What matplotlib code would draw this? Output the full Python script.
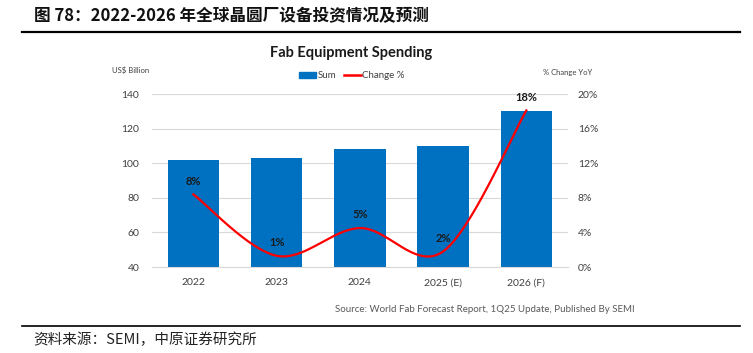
import numpy as np
import matplotlib
matplotlib.use("Agg")
import matplotlib.pyplot as plt
from matplotlib.patches import Patch
from matplotlib.lines import Line2D

years = ["2022", "2023", "2024", "2025 (E)", "2026 (F)"]
spending = [102, 103, 108, 110, 130]
change_pct = [8.4, 1.3, 4.5, 1.8, 18.1]
change_labels = ["8%", "1%", "5%", "2%", "18%"]

plt.rcParams['font.family'] = ['Lato', 'DejaVu Sans']


def smooth_curve(xs, ys, n=40):
    # excel style smoothed line (bezier through the points)
    px = np.array(xs, dtype=float)
    py = np.array(ys, dtype=float)
    ex = np.concatenate([[px[0]], px, [px[-1]]])
    ey = np.concatenate([[py[0]], py, [py[-1]]])
    out_x, out_y = [], []
    t = np.linspace(0, 1, n)
    for i in range(len(px) - 1):
        p0x, p0y = ex[i + 1], ey[i + 1]
        p3x, p3y = ex[i + 2], ey[i + 2]
        c1x = p0x + (ex[i + 2] - ex[i]) / 6
        c1y = p0y + (ey[i + 2] - ey[i]) / 6
        c2x = p3x - (ex[i + 3] - ex[i + 1]) / 6
        c2y = p3y - (ey[i + 3] - ey[i + 1]) / 6
        bx = (1 - t) ** 3 * p0x + 3 * (1 - t) ** 2 * t * c1x + 3 * (1 - t) * t ** 2 * c2x + t ** 3 * p3x
        by = (1 - t) ** 3 * p0y + 3 * (1 - t) ** 2 * t * c1y + 3 * (1 - t) * t ** 2 * c2y + t ** 3 * p3y
        out_x.extend(bx)
        out_y.extend(by)
    return out_x, out_y


fig = plt.figure(figsize=(7.53, 3.53), dpi=100)
ax = fig.add_axes([0.2015, 0.2436, 0.5528, 0.4901])
x = np.arange(len(years))

ax.bar(x, spending, width=0.62, color="#0070C0", zorder=2)
ax.set_ylim(40, 140)
ax.set_yticks(range(40, 141, 20))
ax.set_xlim(-0.5, 4.5)
ax.set_xticks(x)
ax.set_xticklabels(years)
ax.grid(axis="y", color="#D9D9D9", linewidth=0.8, zorder=0)
for s in ["top", "right", "left"]:
    ax.spines[s].set_visible(False)
ax.spines["bottom"].set_color("#D9D9D9")
ax.tick_params(axis="x", length=0, pad=8, labelsize=7.5, labelcolor="#404040")
ax.tick_params(axis="y", length=0, pad=9, labelsize=7.5, labelcolor="#404040")

ax2 = ax.twinx()
ax2.set_ylim(0, 20)
ax2.set_yticks(range(0, 21, 4))
ax2.set_yticklabels([f"{v}%" for v in range(0, 21, 4)])
for s in ax2.spines.values():
    s.set_visible(False)
ax2.tick_params(axis="y", length=0, pad=7, labelsize=7.5, labelcolor="#404040")

sx, sy = smooth_curve(x, change_pct)
ax2.plot(sx, sy, color="#FF0000", linewidth=1.6, zorder=3)
for xi, v, lab in zip(x, change_pct, change_labels):
    ax2.annotate(lab, (xi, v), xytext=(0, 9.5), textcoords="offset points",
                 ha="center", va="center", fontsize=8, fontweight="bold", color="#1a1a1a")

fig.text(351 / 753, 1 - 53 / 353, "Fab Equipment Spending", ha="center", va="center",
         fontsize=10.5, fontweight="bold", color="#1a1a1a")
fig.text(131 / 753, 1 - 70 / 353, "US$ Billion", ha="center", va="center",
         fontsize=5.5, color="#404040")
fig.text(568 / 753, 1 - 72 / 353, "% Change YoY", ha="center", va="center",
         fontsize=5.5, color="#404040")

handles = [Patch(color="#0070C0"), Line2D([0], [0], color="#FF0000", linewidth=1.8)]
fig.legend(handles, ["Sum", "Change %"], loc="center", bbox_to_anchor=(352 / 753, 1 - 75.6 / 353),
           ncol=2, frameon=False, fontsize=7, handlelength=1.7, handleheight=0.6,
           handletextpad=0.2, columnspacing=0.8, labelcolor="#404040")

fig.text(635 / 753, 1 - 310 / 353, "Source: World Fab Forecast Report, 1Q25 Update, Published By SEMI",
         ha="right", va="center", fontsize=7, color="#595959")

fig.text(34 / 753, 1 - 16 / 353, "图 78：2022-2026 年全球晶圆厂设备投资情况及预测", ha="left", va="center",
         fontsize=12, fontweight="bold", color="#111111",
         family=["Noto Sans CJK SC", "DejaVu Sans"])
fig.add_artist(Line2D([22 / 753, 740 / 753], [1 - 31.5 / 353] * 2, color="black", linewidth=1.6))
fig.add_artist(Line2D([22 / 753, 740 / 753], [1 - 325.7 / 353] * 2, color="black", linewidth=1.2))
fig.text(33 / 753, 1 - 340 / 353, "资料来源：SEMI，中原证券研究所", ha="left", va="center",
         fontsize=10.5, color="#222222", family=["Noto Sans CJK SC", "DejaVu Sans"])

fig.savefig("out.png", dpi=100)
